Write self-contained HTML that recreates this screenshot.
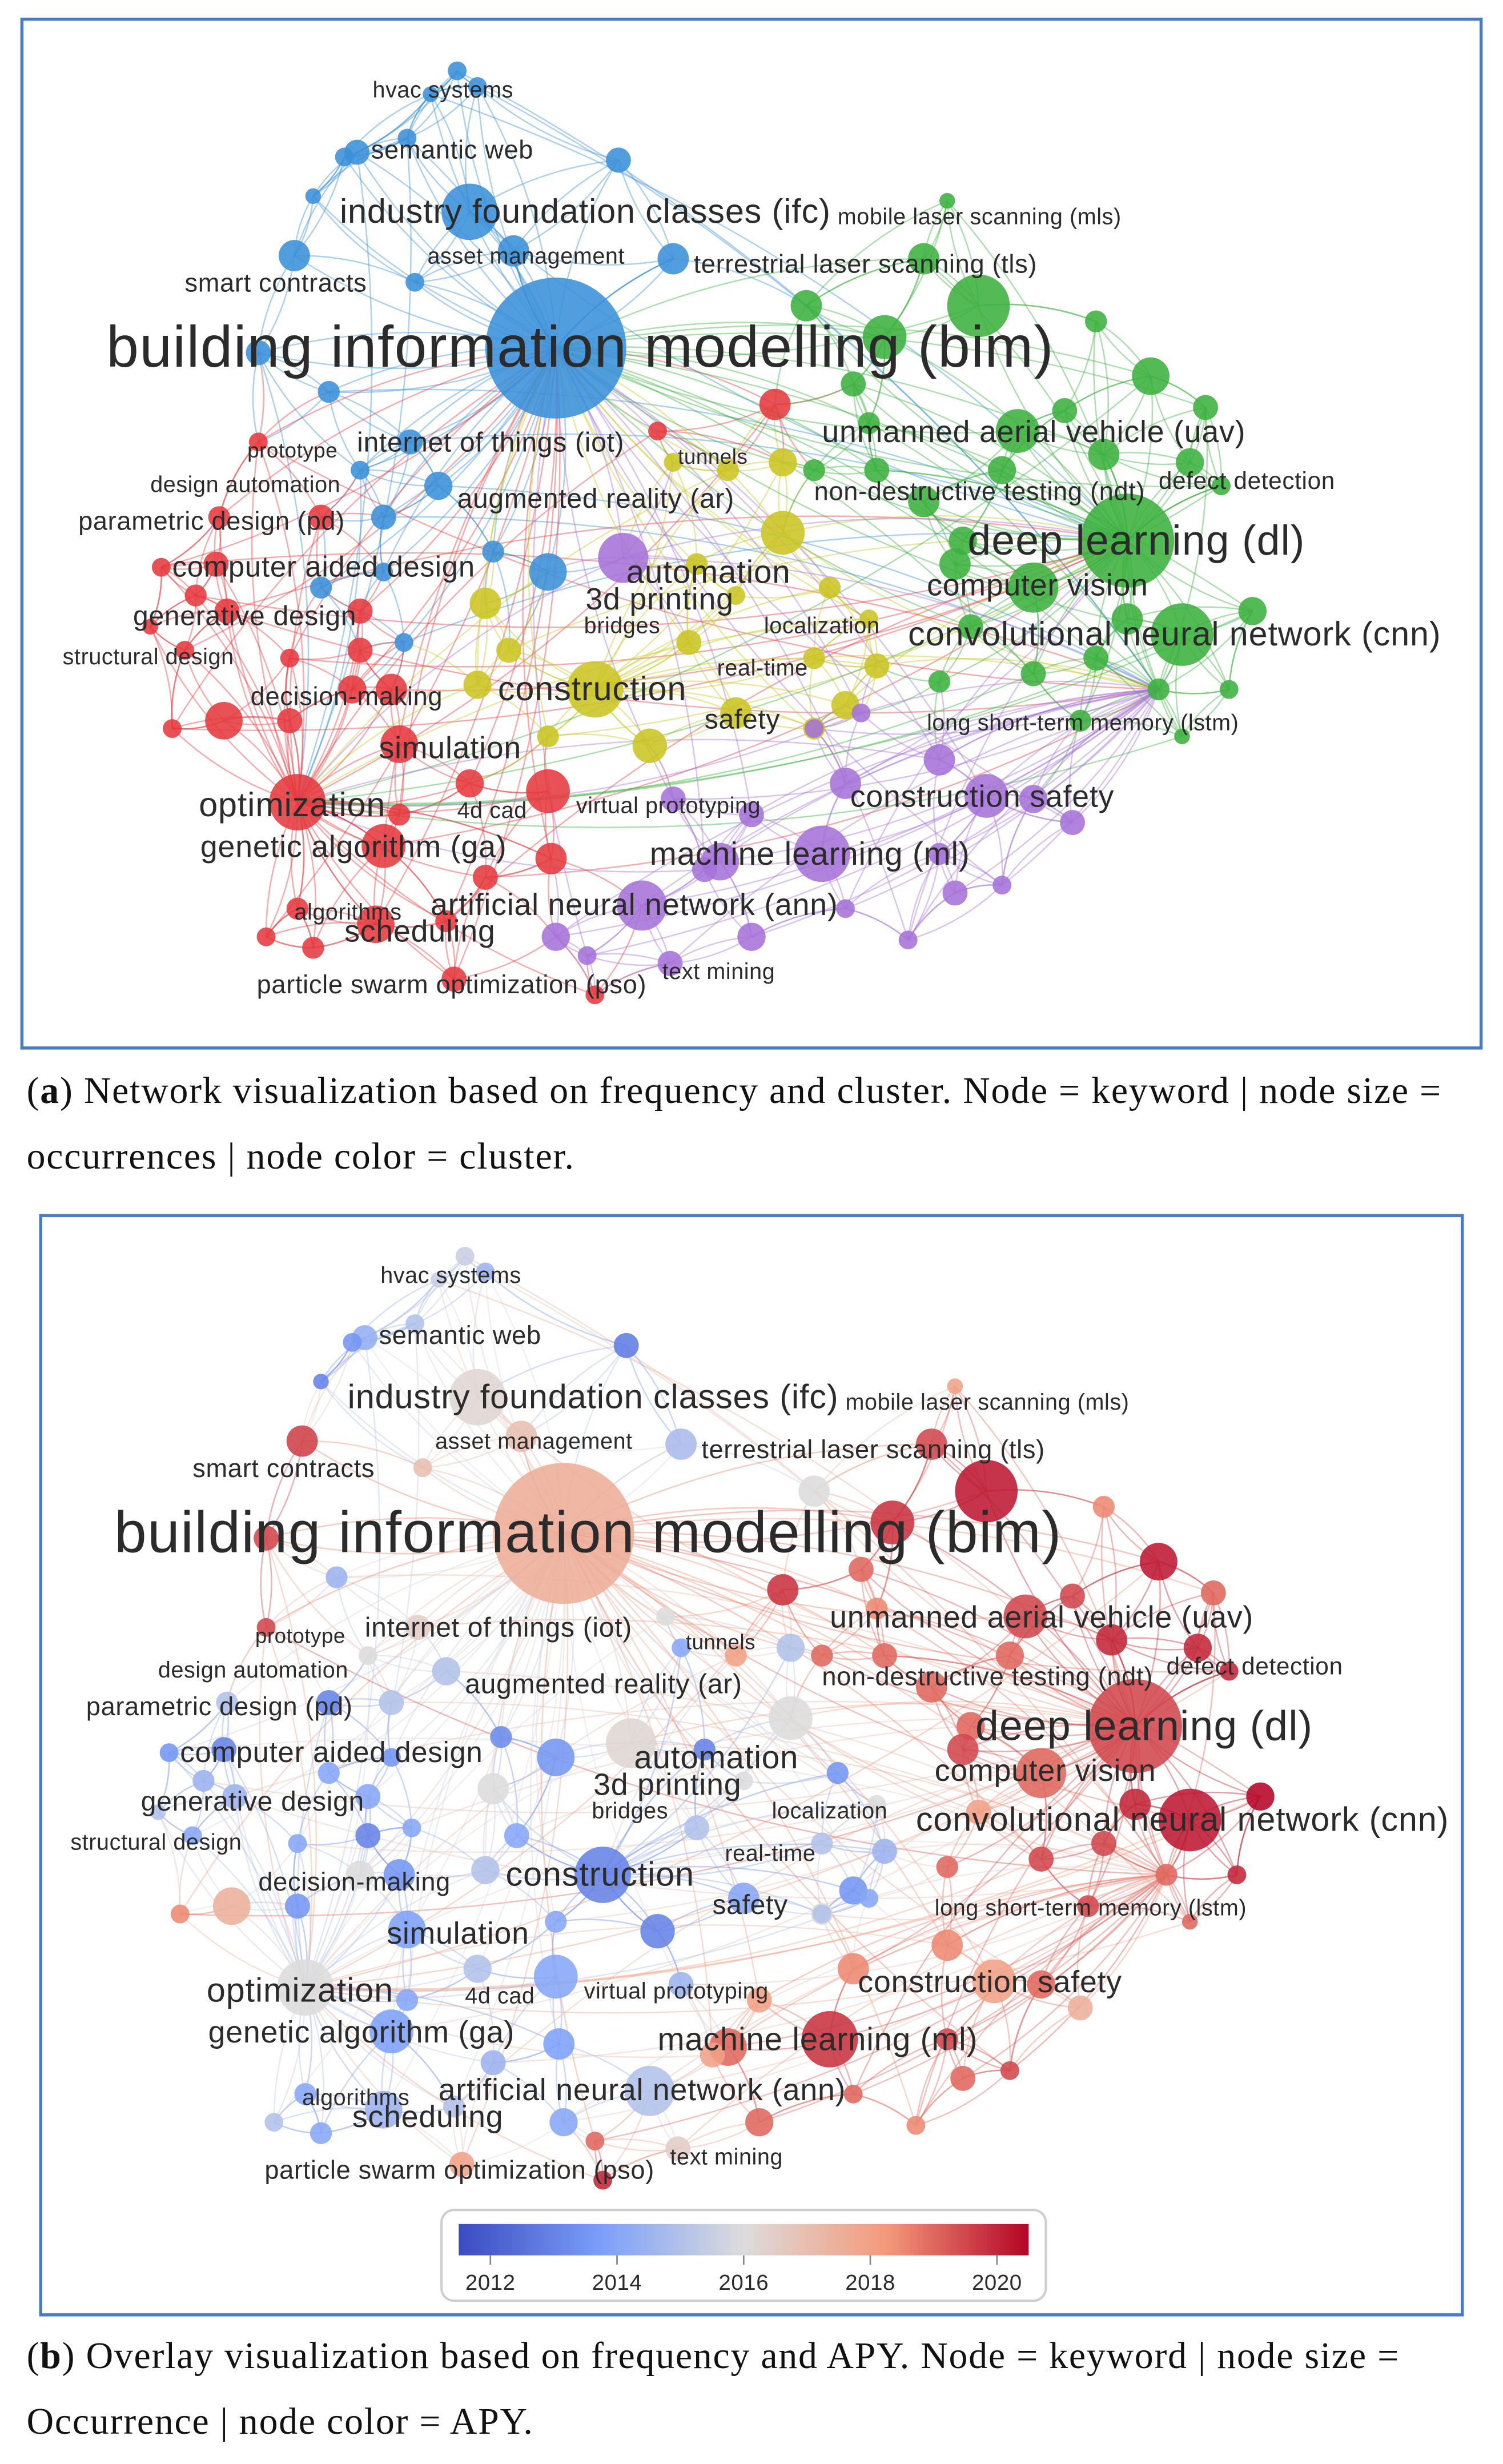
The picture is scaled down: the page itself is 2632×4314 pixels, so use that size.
<!DOCTYPE html>
<html><head><meta charset="utf-8"><style>
html,body{margin:0;padding:0;background:#fff;}
svg{display:block;}
.lbl{font-family:"Liberation Sans",sans-serif;fill:#2b2b2b;letter-spacing:0.015em;}
.cap{font-family:"Liberation Serif",serif;fill:#111;font-size:24px;letter-spacing:0.65px;}
</style></head><body>
<svg id="chart" width="2632" height="4314" viewBox="0 0 960 1573" xmlns="http://www.w3.org/2000/svg">
<defs>
<linearGradient id="cw" x1="0" x2="1" y1="0" y2="0">
<stop offset="0" stop-color="#3b4cc0"/><stop offset="0.25" stop-color="#7b9ff9"/><stop offset="0.5" stop-color="#dddcdc"/><stop offset="0.75" stop-color="#f49a7b"/><stop offset="1" stop-color="#b40426"/>
</linearGradient>
<clipPath id="clipA"><rect x="15" y="13" width="930" height="655"/></clipPath>
<clipPath id="clipB"><rect x="27" y="777" width="906" height="700"/></clipPath>
</defs>
<rect x="14" y="12" width="932" height="657" fill="#fff" stroke="#4a7cc4" stroke-width="2"/>
<rect x="26" y="776" width="908" height="702" fill="#fff" stroke="#4a7cc4" stroke-width="2"/>
<g id="panelA" clip-path="url(#clipA)"></g>
<g id="panelB" clip-path="url(#clipB)"></g>
<g>
<rect x="282" y="1411" width="386" height="58" rx="8" fill="#fff" stroke="#cfcfcf" stroke-width="1.5"/>
<rect x="293" y="1420" width="364" height="20" fill="url(#cw)"/>
<g id="cbTicks"></g>
</g>
<text class="cap" x="17" y="704">(<tspan font-weight="bold">a</tspan>) Network visualization based on frequency and cluster. Node = keyword | node size =</text>
<text class="cap" x="17" y="746">occurrences | node color = cluster.</text>
<text class="cap" x="17" y="1512">(<tspan font-weight="bold">b</tspan>) Overlay visualization based on frequency and APY. Node = keyword | node size =</text>
<text class="cap" x="17" y="1554">Occurrence | node color = APY.</text>
</svg>
<script>
// node data (layout coords in panel a), size, cluster (0 red,1 green,2 blue,3 yellow,4 purple), average publication year
const nodeX=[355,300,228,292,328,188,262,395,260,220,305,275,430,265,165,200,210,280,315,350,230,258,245,205,245,
190,245,255,225,138,140,145,240,190,290,143,110,185,165,205,230,250,300,350,352,310,285,200,170,380,255,125,103,96,118,230,185,420,495,
380,310,325,305,415,440,470,500,500,465,430,530,540,520,560,555,520,350,470,445,
720,755,660,650,590,590,605,780,690,625,515,565,545,735,700,770,760,705,640,800,785,740,700,620,600,660,720,560,615,555,680,755,610,520,
525,630,410,398,428,430,460,480,540,600,660,685,610,580,480,450,355,375,540,640,520,550,600];
const nodeY=[222,135,97,45,160,163,282,102,88,100,55,60,165,180,225,125,250,310,352,365,300,410,365,375,330,
512,540,475,440,360,330,390,590,580,625,460,465,460,282,330,390,440,500,505,548,560,588,605,598,635,520,380,362,400,415,415,420,275,258,
440,385,415,437,476,410,455,340,295,300,295,375,450,465,425,395,420,470,380,360,
345,405,375,275,320,165,128,310,460,195,195,215,245,240,205,260,295,290,300,390,440,440,420,400,435,430,395,300,345,270,262,470,360,300,
545,508,578,356,615,510,550,520,500,485,510,525,570,600,598,555,598,610,580,565,465,455,545];
const nodeR=[45,18,8,6,10,10,8,8,6,6,6,5,10,6,8,5,7,9,7,12,6,6,6,7,8,
18,14,12,9,8,7,8,12,7,8,12,6,8,6,8,8,10,9,14,10,8,7,7,6,6,7,7,6,5,6,8,6,6,10,
18,10,8,9,11,8,10,14,9,7,6,7,9,7,8,6,7,7,6,7,
30,20,16,14,10,10,5,6,7,20,10,14,8,12,7,8,9,10,9,9,6,7,8,8,7,8,10,8,9,7,8,5,10,7,
18,14,16,16,8,8,12,8,10,10,9,8,8,6,9,8,9,6,6,6,6,6,7];
const nodeCluster=[2,2,2,2,2,2,2,2,2,2,2,2,2,2,2,2,2,2,2,2,2,2,2,2,2,
0,0,0,0,0,0,0,0,0,0,0,0,0,0,0,0,0,0,0,0,0,0,0,0,0,0,0,0,0,0,0,0,0,0,
3,3,3,3,3,3,3,3,3,3,3,3,3,3,3,3,3,3,3,3,
1,1,1,1,1,1,1,1,1,1,1,1,1,1,1,1,1,1,1,1,1,1,1,1,1,1,1,1,1,1,1,1,1,1,
4,4,4,4,4,4,4,4,4,4,4,4,4,4,4,4,4,4,4,4,4,4,4];
const nodeAPY=[2017.6,2016.2,2014.3,2015.5,2017,2019.6,2016.5,2012.8,2015,2013.5,2014.5,2015.5,2014.8,2017,2019.5,2013,2014.5,2015,2013.2,2013.5,2016,2014,2013.5,2014,2015,
2016,2013.8,2013.8,2016,2013,2015,2014.5,2014.5,2014,2018,2017.5,2018.5,2013.5,2019.5,2013,2014,2013.5,2015,2014,2013.8,2014.5,2015,2014,2015,2020,2014,2014.5,2013.5,2015,2014,2013,2014,2016,2019.8,
2013,2016,2014,2015,2013,2015,2014,2016,2015,2018,2014,2013.5,2013.5,2016,2014.5,2016,2015,2014,2016,2013,
2019.5,2020.2,2019,2019.5,2019,2019.5,2018,2020,2019.5,2020.2,2016,2019.8,2019,2020.2,2018.5,2019,2020,2020,2019,2020.5,2020,2019,2019.5,2018,2019,2019.5,2020,2019,2019,2018.5,2019.5,2019,2019.5,2019,
2019.8,2018,2015,2016.2,2016.5,2014.5,2019,2018,2018.5,2018.5,2019,2017.5,2019,2018.5,2019,2018,2014,2019,2019,2019.5,2015,2014,2019.5];
// keyword labels
const labelText=["hvac systems","semantic web","industry foundation classes (ifc)","mobile laser scanning (mls)","asset management","terrestrial laser scanning (tls)","smart contracts","building information modelling (bim)","unmanned aerial vehicle (uav)","prototype","internet of things (iot)","tunnels","design automation","defect detection","augmented reality (ar)","non-destructive testing (ndt)","parametric design (pd)","deep learning (dl)","computer aided design","automation","3d printing","computer vision","generative design","bridges","localization","convolutional neural network (cnn)","structural design","real-time","decision-making","construction","safety","long short-term memory (lstm)","simulation","optimization","4d cad","virtual prototyping","construction safety","genetic algorithm (ga)","machine learning (ml)","artificial neural network (ann)","algorithms","scheduling","particle swarm optimization (pso)","text mining"];
const labelX=[238,237,217,535,273,443,118,68,525,158,228,433,96,740,292,520,50,618,110,400,374,592,85,373,488,580,40,458,160,318,450,592,242,127,292,368,543,128,415,275,188,220,164,423];
const labelY=[62,101,142,143,168,174,186,234,282,292,288,296,314,312,324,319,338,354,368,372,389,380,399,404,404,412,424,431,450,447,465,466,484,521,522,519,515,547,552,584,587,601,634,625];
const labelSize=[14,16,21,14,14,16,16,36,19,13,17,13,14,15,17,16,16,26,18,20,19,19,17,14,14,21,14,14,16,21,17,14,19,21,14,14,19,19,20,19,14,19,16,14];
const tickYears=[2012,2014,2016,2018,2020];

const NS="http://www.w3.org/2000/svg";
const clusterColor=["#e5393e","#3bb13f","#3a8fd8","#c9c523","#a572d8"];
const yMin=2011.5,yMax=2020.5;
function cbX(y){return 293+(y-yMin)/(yMax-yMin)*364;}
const stops=[[59,76,192],[123,159,249],[221,220,220],[244,154,123],[180,4,38]];
function apyColor(y){let t=Math.max(0,Math.min(1,(y-yMin)/(yMax-yMin)))*4;let i=Math.min(3,Math.floor(t)),f=t-i;
 const a=stops[i],b=stops[i+1];return "rgb("+a.map((v,k)=>Math.round(v+(b[k]-v)*f)).join(",")+")";}
function el(tag,attrs,parent){const e=document.createElementNS(NS,tag);for(const k in attrs)e.setAttribute(k,attrs[k]);parent.appendChild(e);return e;}
const hubs=[25,79,0,59,100];
const N=nodeX.length;
const edges=[];
for(let i=0;i<N;i++){
 const d=[];for(let j=0;j<N;j++)if(j!==i)d.push([Math.hypot(nodeX[i]-nodeX[j],nodeY[i]-nodeY[j]),j]);
 d.sort((a,b)=>a[0]-b[0]);
 for(let k=0;k<4;k++)edges.push([i,d[k][1]]);
 const h=hubs[nodeCluster[i]];if(h!==i)edges.push([i,h]);
 if(i!==0&&i%2===0)edges.push([i,0]);
 if(i%5===1)edges.push([i,79]);
 if(i%7===3)edges.push([i,100]);
 if(i%6===2)edges.push([i,25]);
}
function drawPanel(g,dx,dy,overlay){
 const eg=el("g",{},g);
 
 
 edges.forEach(([a,b],k)=>{
  const col=overlay?apyColor((nodeAPY[a]+nodeAPY[b])/2):clusterColor[nodeCluster[a]];
  const x1=nodeX[a]+dx,y1=nodeY[a]+dy,x2=nodeX[b]+dx,y2=nodeY[b]+dy;
  const mx=(x1+x2)/2,my=(y1+y2)/2,s=(k%2?0.12:-0.12);
  const cx=mx-(y2-y1)*s,cy=my+(x2-x1)*s;
  const ln=el("path",{d:`M${x1},${y1}Q${cx},${cy} ${x2},${y2}`,fill:"none",stroke:col,"stroke-width":0.9,"stroke-opacity":0.42},eg);
  
  
 });
 const ng=el("g",{},g);
 
 
 for(let i=0;i<N;i++){
  const col=overlay?apyColor(nodeAPY[i]):clusterColor[nodeCluster[i]];
  const c=el("circle",{cx:nodeX[i]+dx,cy:nodeY[i]+dy,r:nodeR[i],fill:col,"fill-opacity":0.88},ng);
  
  
 }
 const lg=el("g",{},g);
 
 
 labelText.forEach((t,i)=>{
  const tx=el("text",{x:labelX[i]+dx,y:labelY[i]+dy,"font-size":labelSize[i]*1.03,class:"lbl"},lg);
  tx.textContent=t;
  
  
 });
}
drawPanel(document.getElementById("panelA"),0,0,false);
drawPanel(document.getElementById("panelB"),5,757,true);
const tg=document.getElementById("cbTicks");
tickYears.forEach(y=>{
 const l=el("line",{x1:cbX(y),x2:cbX(y),y1:1440,y2:1446,stroke:"#888","stroke-width":1},tg);
 
 
 const t=el("text",{x:cbX(y),y:1462,"font-size":14,"text-anchor":"middle",class:"lbl"},tg);
 t.textContent=y;
 
 
});
</script>
</body></html>
